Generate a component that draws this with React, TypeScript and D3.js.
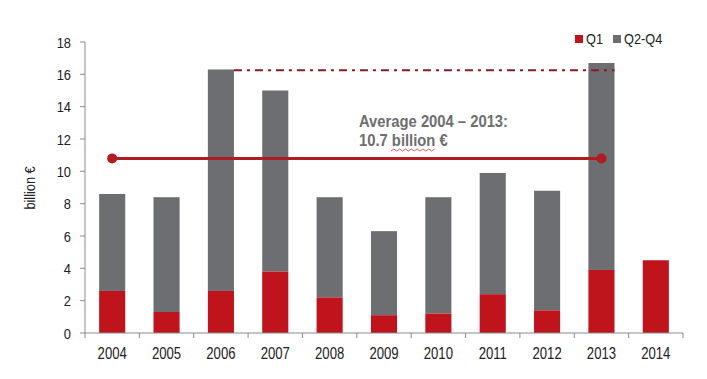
import React from "react";
import * as d3 from "d3";

const years = ["2004","2005","2006","2007","2008","2009","2010","2011","2012","2013","2014"];
const q1 = [2.6, 1.3, 2.6, 3.8, 2.2, 1.1, 1.2, 2.4, 1.4, 3.9, 4.5];
const total = [8.6, 8.4, 16.3, 15.0, 8.4, 6.3, 8.4, 9.9, 8.8, 16.7, 4.5];
const yTicks = [0, 2, 4, 6, 8, 10, 12, 14, 16, 18];
const averageValue = 10.8;
const averageLabel = ["Average 2004 \u2013 2013:", "10.7 billion \u20ac"];
const peakLevel = 16.25;

const RED = "#c0141c";
const GREY = "#6d6e71";
const DARKRED = "#b01c22";
const FONT = "'Liberation Sans', Arial, sans-serif";

function NText({ x, y, sx = 0.82, anchor = "start", size, children, weight = "normal", fill = "#222" }: any) {
  return (
    <g transform={`translate(${x},${y}) scale(${sx},1)`}>
      <text x={0} y={0} textAnchor={anchor} fontSize={size} fontWeight={weight} fill={fill}>{children}</text>
    </g>
  );
}

export default function App() {
  const W = 707, H = 379;
  const x0 = 85, x1 = 683, yTop = 42, yBot = 333;
  const x = d3.scaleBand<string>().domain(years).range([x0, x1]).paddingInner(0.52).paddingOuter(0.26);
  const band = d3.scaleBand<string>().domain(years).range([x0, x1]);
  const y = d3.scaleLinear().domain([0, 18]).range([yBot, yTop]);
  const bw = x.bandwidth();
  const cx = (yr: string) => (x(yr) as number) + bw / 2;

  return (
    <svg width={W} height={H} style={{ position: "absolute", left: 0, top: 0, background: "#fff" }} fontFamily={FONT}>
      {/* bars */}
      {years.map((yr, i) => (
        <g key={yr}>
          <rect x={x(yr)} y={y(total[i])} width={bw} height={y(q1[i]) - y(total[i])} fill={GREY} />
          <rect x={x(yr)} y={y(q1[i])} width={bw} height={yBot - y(q1[i])} fill={RED} />
        </g>
      ))}
      {/* y axis */}
      <line x1={x0} x2={x0} y1={yTop} y2={yBot} stroke="#8a8a8a" strokeWidth={1} />
      {yTicks.map((t) => (
        <g key={t}>
          <line x1={x0 - 5} x2={x0} y1={y(t)} y2={y(t)} stroke="#8a8a8a" />
          <NText x={x0 - 14} y={y(t) + 5.5} sx={0.86} anchor="end" size={15}>{t}</NText>
        </g>
      ))}
      {/* x axis */}
      <line x1={x0} x2={x1} y1={yBot} y2={yBot} stroke="#8a8a8a" />
      {years.map((yr) => (
        <line key={"t" + yr} x1={(band(yr) as number) + band.bandwidth()} x2={(band(yr) as number) + band.bandwidth()} y1={yBot} y2={yBot + 5} stroke="#8a8a8a" />
      ))}
      <line x1={x0} x2={x0} y1={yBot} y2={yBot + 5} stroke="#8a8a8a" />
      {years.map((yr) => (
        <NText key={"l" + yr} x={(band(yr) as number) + band.bandwidth() / 2} y={358.5} anchor="middle" size={16}>{yr}</NText>
      ))}
      {/* y title */}
      <g transform={`translate(35,188) rotate(-90) scale(0.88,1)`}>
        <text textAnchor="middle" fontSize={14.5} fill="#222">billion €</text>
      </g>
      {/* peak dash-dot line */}
      <line x1={(x("2006") as number) + bw} x2={(x("2013") as number) + bw} y1={y(peakLevel)} y2={y(peakLevel)} stroke="#8b1a22" strokeWidth={2} strokeDasharray="8,5,3,5" />
      {/* average line */}
      <line x1={cx("2004")} x2={cx("2013")} y1={y(averageValue)} y2={y(averageValue)} stroke={DARKRED} strokeWidth={3} />
      <circle cx={cx("2004")} cy={y(averageValue)} r={5} fill={DARKRED} />
      <circle cx={cx("2013")} cy={y(averageValue)} r={5} fill={DARKRED} />
      {/* annotation */}
      <NText x={359} y={127} sx={0.87} size={17} weight="bold" fill={GREY}>{averageLabel[0]}</NText>
      <NText x={359} y={146} sx={0.87} size={17} weight="bold" fill={GREY}>{averageLabel[1]}</NText>
      <path d={d3.range(0, 16).map((k) => `${k === 0 ? "M" : "L"}${391 + k * 2.9},${k % 2 ? 149 : 151}`).join(" ")} stroke="#e03030" strokeWidth={0.8} fill="none" />
      {/* legend */}
      <rect x={575} y={35} width={8} height={8} fill={RED} />
      <NText x={586} y={43.5} sx={0.85} size={15}>Q1</NText>
      <rect x={613} y={35} width={8} height={8} fill={GREY} />
      <NText x={624} y={43.5} sx={0.85} size={15}>Q2-Q4</NText>
    </svg>
  );
}
